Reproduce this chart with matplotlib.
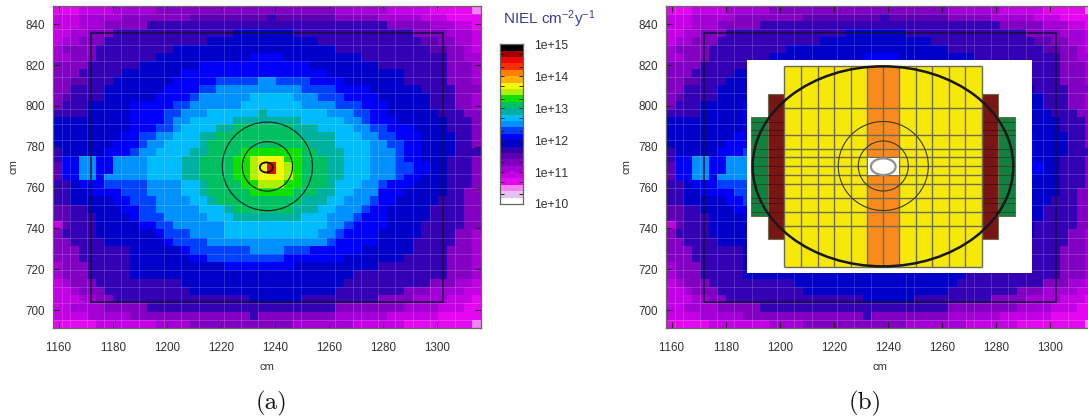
import numpy as np
import matplotlib
matplotlib.use('Agg')
import matplotlib.pyplot as plt
from matplotlib.colors import ListedColormap
from matplotlib.patches import Ellipse, Rectangle

plt.rcParams['font.family'] = ['Liberation Sans', 'DejaVu Sans']
plt.rcParams['mathtext.default'] = 'regular'
plt.rcParams['text.kerning_factor'] = 6

W, H = 1088, 418

# colour bands of the NIEL scale, low to high
band_colors = ['#ffffff', '#e6c0ee', '#f880f8', '#e408f0', '#c400e4', '#a400d6', '#8200c2', '#5c00b2',
               '#3400b4', '#0000c8', '#0000f8', '#0040ff', '#0090ff', '#00bcff', '#00b0a0', '#00c060',
               '#10e000', '#b0f000', '#f4f800', '#ffb000', '#ff8000', '#ff3000', '#e80808', '#a00000',
               '#000000']
scale_ticks = [1e10, 1e11, 1e12, 1e13, 1e14, 1e15]
scale_labels = ['1e+10', '1e+11', '1e+12', '1e+13', '1e+14', '1e+15']

x_ticks = [1160, 1180, 1200, 1220, 1240, 1260, 1280, 1300]
y_ticks = [700, 720, 740, 760, 780, 800, 820, 840]

# map read row by row from the top, each token is band@first column after the run
map_rows = [
    "3@3 4@7 5@12 6@33 5@39 4@44 3@49 2@50",
    "4@3 5@8 6@16 7@25 8@26 7@33 6@38 5@43 4@46 3@50",
    "4@3 5@6 6@11 8@39 6@44 5@47 4@49 3@50",
    "4@2 5@4 6@7 8@21 9@28 8@42 6@46 5@49 4@50",
    "4@1 5@3 6@6 8@18 9@31 8@43 7@45 6@47 5@49 4@50",
    "5@1 6@5 8@14 9@33 8@44 7@46 6@48 5@49 4@50",
    "5@2 6@5 8@12 9@23 10@27 9@36 8@46 6@48 5@50",
    "6@4 8@10 9@17 10@30 9@38 8@46 6@49 5@50",
    "6@3 8@8 9@15 10@32 9@41 8@46 6@49 5@50",
    "6@2 7@4 8@7 9@14 10@19 11@24 12@26 11@30 10@34 9@41 8@46 6@49 5@50",
    "6@2 8@6 9@13 10@17 11@19 12@29 11@33 10@37 9@43 8@47 6@50",
    "6@1 7@2 8@6 9@12 10@16 11@17 12@23 13@28 12@31 11@34 10@38 9@44 8@47 6@49 5@50",
    "6@1 8@4 9@9 10@14 11@16 12@22 13@29 12@33 11@36 10@39 9@44 8@47 6@49 5@50",
    "8@4 9@9 10@13 11@15 12@18 13@24 14@25 13@32 12@35 11@37 10@39 9@45 8@48 6@50",
    "9@9 10@13 11@14 12@16 13@21 14@29 13@34 12@36 11@37 10@40 9@46 8@49 6@50",
    "9@9 10@12 11@14 12@15 13@19 14@21 15@28 14@31 13@35 12@37 11@39 10@42 9@46 8@49 6@50",
    "9@8 10@10 11@12 12@14 13@17 14@19 15@29 14@33 13@36 12@38 11@40 10@43 9@47 8@49 6@50",
    "9@7 10@10 11@11 12@13 13@17 14@18 15@30 14@33 13@37 12@39 11@41 10@43 9@47 8@49 6@50",
    "8@1 9@6 10@9 11@10 12@12 13@16 14@18 15@22 16@29 15@31 14@34 13@37 12@40 11@41 10@43 9@47 8@50",
    "8@1 10@3 12@5 10@7 12@11 13@15 14@17 15@21 16@23 17@24 18@27 16@29 15@32 14@34 13@37 12@40 11@41 10@43 9@46 8@49 6@50",
    "7@1 10@3 12@5 10@7 12@11 13@15 14@17 15@21 16@23 17@24 18@25 22@26 18@27 17@28 16@29 15@32 14@34 13@37 12@40 11@42 10@44 9@46 8@49 6@50",
    "7@1 10@3 12@5 10@6 12@11 13@15 14@17 15@21 16@23 17@24 18@27 17@28 16@29 15@32 14@34 13@37 12@40 11@41 10@43 9@46 8@49 6@50",
    "8@2 9@3 10@6 11@11 12@15 13@17 14@18 15@22 16@24 17@27 16@29 15@32 14@33 13@36 12@38 11@39 10@42 9@46 8@49 6@50",
    "8@2 9@4 10@8 11@11 12@15 13@17 14@18 15@23 16@28 15@31 14@33 13@35 12@38 10@41 9@46 8@48 6@50",
    "8@2 9@7 10@9 11@12 12@16 13@18 14@19 15@29 14@32 13@34 12@37 11@38 10@40 9@45 8@48 6@50",
    "7@2 8@4 9@8 10@10 11@12 12@17 13@20 14@21 15@28 14@31 13@33 12@36 11@37 10@39 9@44 8@48 6@50",
    "7@2 8@5 9@9 10@10 11@13 12@18 13@21 14@29 13@32 12@35 11@36 10@39 9@44 8@48 6@50",
    "4@1 7@2 8@5 9@10 10@12 11@14 12@20 13@32 12@34 11@35 10@39 9@43 8@48 6@50",
    "6@1 8@5 9@12 10@13 11@16 12@20 13@31 12@33 11@34 10@38 9@43 8@47 6@49 5@50",
    "6@2 8@6 9@13 10@14 11@18 12@32 11@33 10@38 9@42 8@47 6@49 5@50",
    "6@3 8@9 9@15 10@16 11@23 12@27 11@30 10@36 9@42 8@46 6@49 5@50",
    "6@3 8@9 9@16 10@18 11@27 10@34 9@41 8@46 6@49 5@50",
    "5@1 6@4 8@9 9@20 10@28 9@38 8@46 6@49 5@50",
    "5@1 6@4 8@9 9@35 8@46 6@49 5@50",
    "4@1 5@2 6@5 8@15 9@34 8@44 6@47 5@49 4@50",
    "4@2 5@3 6@6 8@16 9@33 8@41 6@44 5@48 4@50",
    "4@3 5@5 6@7 8@23 9@29 8@38 6@42 5@46 4@49 3@50",
    "4@2 5@6 6@11 8@33 6@41 5@45 4@48 3@50",
    "4@4 5@9 6@23 8@24 6@33 5@39 4@45 3@50",
    "3@5 4@12 5@16 6@28 5@35 4@41 3@49 2@50",
]

# pale mesh lines that show through the map: column edges, and every other row edge
mesh_cols = [1, 2, 4, 6, 8, 10, 13, 15, 17, 20, 22, 24, 28, 29, 33, 35, 36, 38, 40, 42, 44, 47]

# overlay geometry in cm: box and the circles round the beam pipe
box_x = [1171.9, 1302.2]
box_y = [704.0, 835.6]
circle_center = (1237.3, 770.4)
circle_widths = [33.4, 18.6]
circle_heights = [43.4, 24.2]

# schematic of the detector in panel (b), units of the original drawing
sch_col_lines = [162, 213, 263, 313, 362, 411, 460, 508, 558, 607, 656, 705, 755]
sch_row_lines = [175, 256, 296, 322, 348, 376, 403, 443, 485, 527]
sch_side_lines = [215, 240, 256, 296, 322, 348, 376, 403, 443, 460, 485]


def read_map():
    grid = []
    for row in map_rows:
        cells = []
        for token in row.split():
            band, end = token.split('@')
            cells += [int(band)] * (int(end) - len(cells))
        grid.append(cells)
    return np.array(grid)


def px_axes(x0, y0, x1, y1):
    return fig.add_axes([x0 / W, 1 - y1 / H, (x1 - x0) / W, (y1 - y0) / H])


def draw_map(ax):
    ax.pcolormesh(x_edges, y_edges, grid, cmap=cmap, vmin=0, vmax=25, linewidth=0, rasterized=True)
    ax.vlines(x_edges[mesh_cols], 691, 849, color='white', lw=0.6, alpha=0.2)
    ax.hlines(y_edges[1:-1:2], 1157.9, 1316.4, color='white', lw=0.6, alpha=0.2)
    ax.add_patch(Rectangle((box_x[0], box_y[0]), box_x[1] - box_x[0], box_y[1] - box_y[0],
                           fill=False, ec='#14103a', lw=1.1))
    ax.set_xlim(1157.9, 1316.4)
    ax.set_ylim(691.2, 849)
    ax.set_xticks(x_ticks)
    ax.set_yticks(y_ticks)
    ax.tick_params(direction='in', top=True, right=True, length=4, width=0.8, color='#222222',
                   labelsize=8.4, labelcolor='#333333', pad=6)
    ax.tick_params(axis='x', pad=10)
    for s in ax.spines.values():
        s.set_color('#666666')
        s.set_linewidth(0.9)
    ax.set_xlabel('cm', fontsize=8, color='#333333', labelpad=5.5)
    ax.set_ylabel('cm', fontsize=8, color='#333333', labelpad=5)


def draw_schematic(ax):
    ax.set_xlim(52, 907)
    ax.set_ylim(668, 30)
    ax.axis('off')
    ax.add_patch(Rectangle((52, 30), 855, 638, fc='white', ec='none'))
    line = '#6c6c50'
    for x0, x1 in [(62, 113), (805, 855)]:
        ax.add_patch(Rectangle((x0, 200), x1 - x0, 298, fc='#12803f', ec=line, lw=0.8))
        ax.hlines(sch_side_lines, x0, x1, color='#2c4a2c', lw=0.7)
    for x0, x1 in [(113, 163), (755, 805)]:
        ax.add_patch(Rectangle((x0, 133), x1 - x0, 435, fc='#7a1515', ec=line, lw=0.8))
        ax.hlines(sch_side_lines, x0, x1, color='#4c1010', lw=0.7)
    ax.add_patch(Rectangle((162, 48), 593, 602, fc='#f6e808', ec='none'))
    ax.add_patch(Rectangle((411, 48), 97, 602, fc='#f98a1e', ec='none'))
    ax.vlines(sch_col_lines, 48, 650, color=line, lw=1.0)
    ax.hlines(sch_row_lines, 162, 755, color=line, lw=1.0)
    ax.hlines([48, 650], 162, 755, color=line, lw=1.0)
    ax.add_patch(Rectangle((413, 323), 94, 53, fc='white', ec='none', zorder=3))
    ax.add_patch(Ellipse((460, 350), 74, 50, fc='white', ec='#909090', lw=1.6, zorder=4))
    ax.add_patch(Ellipse((460, 348), 270, 267, fill=False, ec='#3a3a20', lw=0.8, zorder=4))
    ax.add_patch(Ellipse((460, 348), 150, 150, fill=False, ec='#3a3a20', lw=0.8, zorder=4))
    ax.add_patch(Ellipse((459, 349), 782, 600, fill=False, ec='#181818', lw=1.8, zorder=5))


grid = read_map()
cmap = ListedColormap(band_colors)
x_edges = np.linspace(1157.9, 1316.4, 51)
y_edges = np.r_[849, np.linspace(845.3, 775.4, 19), 772.5, 766.6, np.linspace(763.7, 691.2, 19)]

fig = plt.figure(figsize=(W / 100, H / 100), dpi=100)

ax_a = px_axes(53, 6, 481, 328)
draw_map(ax_a)
for w, h in zip(circle_widths, circle_heights):
    ax_a.add_patch(Ellipse(circle_center, w, h, fill=False, ec='#102a2a', lw=0.9))
ax_a.add_patch(Ellipse((1236.9, 769.9), 4.8, 4.9, fill=False, ec='#101010', lw=1.3))

ax_b = px_axes(666, 6, 1094, 328)
draw_map(ax_b)
ax_s = px_axes(747.3, 60, 1032.3, 272.7)
draw_schematic(ax_s)

# colour scale
ax_c = px_axes(500, 44.3, 522.7, 204)
scale_edges = np.logspace(10, 15, len(band_colors) + 1)
ax_c.pcolormesh([0, 1], scale_edges, np.arange(len(band_colors)).reshape(-1, 1), cmap=cmap,
                vmin=0, vmax=25)
ax_c.set_yscale('log')
ax_c.set_ylim(1e10, 1e15)
ax_c.set_xticks([])
ax_c.yaxis.tick_right()
ax_c.set_yticks(scale_ticks)
ax_c.set_yticklabels(scale_labels)
ax_c.set_yticks([f * t for t in scale_ticks[:-1] for f in (2, 5)], minor=True)
ax_c.set_yticklabels([], minor=True)
ax_c.tick_params(which='both', direction='in', left=True, right=True, length=3, width=0.7, color='#222222')
ax_c.tick_params(which='major', labelsize=8.8, labelcolor='#333333', pad=8)
for s in ax_c.spines.values():
    s.set_color('#666666')
    s.set_linewidth(0.9)

fig.text(503 / W, 1 - 24 / H, r'NIEL cm$^{-2}$y$^{-1}$', fontsize=11, color='#3c3c94', ha='left', va='baseline')

fig.text(271 / W, 1 - 403 / H, '(a)', family='cmr10', fontsize=18, ha='center', va='center', color='#111111')
fig.text(865 / W, 1 - 403 / H, '(b)', family='cmr10', fontsize=18, ha='center', va='center', color='#111111')

fig.savefig('out.png', dpi=100)
